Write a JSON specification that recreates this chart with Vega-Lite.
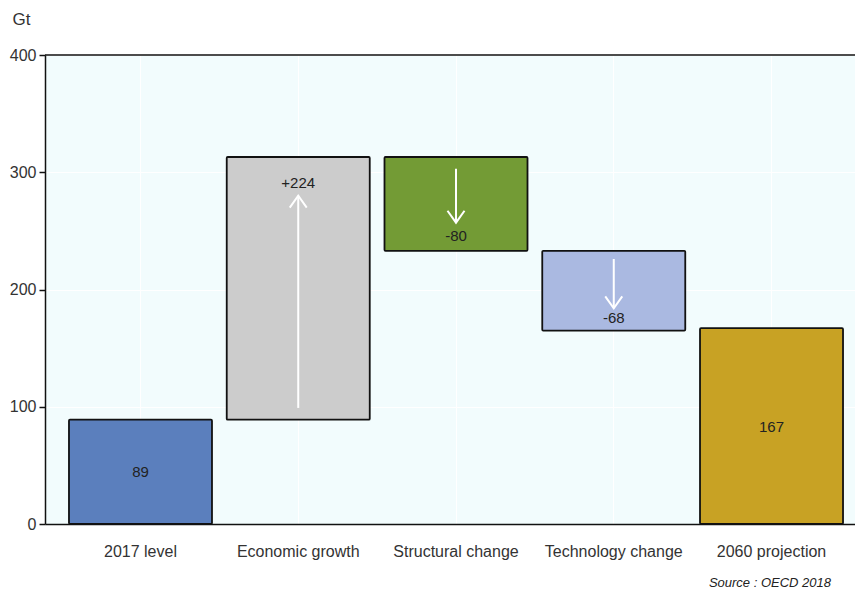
{
  "$schema": "https://vega.github.io/schema/vega-lite/v6.json",
  "width": 810,
  "height": 469,
  "autosize": {"type": "none"},
  "padding": {"left": 45, "top": 55, "right": 0, "bottom": 68},
  "background": "white",
  "config": {
    "font": "Liberation Sans",
    "view": {"fill": "#f2fcfd", "stroke": null}
  },
  "title": {
    "text": "Source : OECD 2018",
    "orient": "bottom",
    "anchor": "end",
    "fontSize": 13,
    "fontStyle": "italic",
    "fontWeight": "normal",
    "color": "#222",
    "dx": -36,
    "offset": 18
  },
  "datasets": {
    "bars": [
      {"cat": "2017 level", "lo": 0, "hi": 89},
      {"cat": "Economic growth", "lo": 89, "hi": 313},
      {"cat": "Structural change", "lo": 233, "hi": 313},
      {"cat": "Technology change", "lo": 165, "hi": 233},
      {"cat": "2060 projection", "lo": 0, "hi": 167}
    ],
    "labels": [
      {"cat": "2017 level", "text": "89", "at": 44},
      {"cat": "Economic growth", "text": "+224", "at": 291},
      {"cat": "Structural change", "text": "-80", "at": 246},
      {"cat": "Technology change", "text": "-68", "at": 176},
      {"cat": "2060 projection", "text": "167", "at": 83}
    ],
    "arrows": [
      {"cat": "Economic growth", "from": 99, "to": 280, "dir": "up"},
      {"cat": "Structural change", "from": 303, "to": 257, "dir": "down"},
      {"cat": "Technology change", "from": 226, "to": 184, "dir": "down"}
    ]
  },
  "encoding": {
    "x": {
      "field": "cat",
      "type": "nominal",
      "sort": ["2017 level", "Economic growth", "Structural change", "Technology change", "2060 projection"],
      "scale": {"range": [0, 822], "paddingInner": 0.0935, "paddingOuter": 0.152},
      "axis": {
        "title": null,
        "labelAngle": 0,
        "labelFontSize": 16,
        "labelColor": "#333",
        "labelPadding": 19,
        "ticks": false,
        "domainColor": "#111",
        "domainWidth": 1.5,
        "grid": true,
        "gridColor": "white",
        "gridWidth": 1,
        "bandPosition": 0.5
      }
    }
  },
  "layer": [
    {
      "data": {"name": "bars"},
      "mark": {"type": "bar", "stroke": "#111", "strokeWidth": 1.8, "cornerRadius": 1},
      "encoding": {
        "y": {
          "field": "lo",
          "type": "quantitative",
          "scale": {"domain": [0, 400], "nice": false},
          "axis": {
            "values": [0, 100, 200, 300, 400],
            "title": "Gt",
            "titleAngle": 0,
            "titleX": -33,
            "titleY": -31,
            "titleAlign": "left",
            "titleBaseline": "alphabetic",
            "titleFontSize": 17,
            "titleFontWeight": "normal",
            "titleColor": "#333",
            "labelFontSize": 16,
            "labelColor": "#333",
            "labelPadding": 3,
            "tickColor": "#111",
            "tickSize": 6,
            "tickWidth": 1.5,
            "domainColor": "#111",
            "domainWidth": 1.5,
            "grid": true,
            "gridColor": "white",
            "gridWidth": 1
          }
        },
        "y2": {"field": "hi"},
        "color": {
          "field": "cat",
          "type": "nominal",
          "legend": null,
          "scale": {
            "domain": ["2017 level", "Economic growth", "Structural change", "Technology change", "2060 projection"],
            "range": ["#5b7fbd", "#cccccc", "#739b35", "#aab9e1", "#c8a224"]
          }
        }
      }
    },
    {
      "data": {"name": "arrows"},
      "mark": {"type": "rule", "color": "white", "strokeWidth": 2},
      "encoding": {
        "y": {"field": "from", "type": "quantitative"},
        "y2": {"field": "to"}
      }
    },
    {
      "data": {"name": "arrows"},
      "mark": {"type": "point", "filled": false, "stroke": "white", "strokeWidth": 2, "size": 289, "opacity": 1},
      "encoding": {
        "y": {"field": "to", "type": "quantitative"},
        "shape": {
          "field": "dir",
          "type": "nominal",
          "legend": null,
          "scale": {"domain": ["up", "down"], "range": ["M -1 1.4 L 0 0 L 1 1.4", "M -1 -1.4 L 0 0 L 1 -1.4"]}
        }
      }
    },
    {
      "data": {"name": "labels"},
      "mark": {"type": "text", "fontSize": 15, "color": "#222", "baseline": "middle"},
      "encoding": {
        "y": {"field": "at", "type": "quantitative"},
        "text": {"field": "text"}
      }
    },
    {
      "data": {"values": [{"top": 400}]},
      "mark": {"type": "rule", "color": "#111", "strokeWidth": 1.5},
      "encoding": {
        "y": {"field": "top", "type": "quantitative"},
        "x": null
      }
    }
  ],
  "resolve": {"scale": {"y": "shared"}}
}
